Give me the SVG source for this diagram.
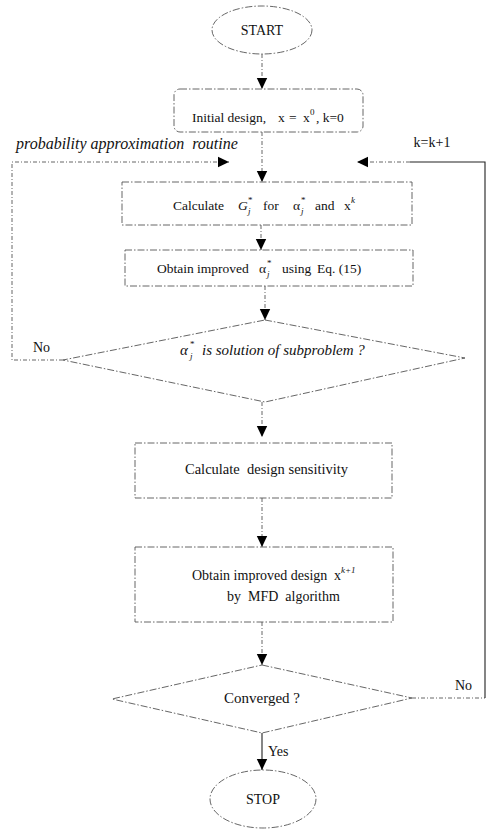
<svg xmlns="http://www.w3.org/2000/svg" width="487" height="831" viewBox="0 0 487 831">
<style>
  text { font-family: "Liberation Serif", "Times New Roman", serif; font-size: 14px; fill: #111; }
  .it { font-style: italic; }
  .sm { font-size: 9px; }
  .shape { fill: none; stroke: #555; stroke-width: 0.9; stroke-dasharray: 7 2 1.5 2; }
  .conn { fill: none; stroke: #555; stroke-width: 0.9; stroke-dasharray: 4 2 1 2; }
  .solid { fill: none; stroke: #222; stroke-width: 1.1; }
</style>
<defs>
  <marker id="ah" markerUnits="userSpaceOnUse" markerWidth="12" markerHeight="12" viewBox="0 0 12 12" refX="11" refY="6" orient="auto">
    <polygon points="0,0.8 11,6 0,11.2" fill="#000"/>
  </marker>
</defs>

<g id="connectors">
  <line class="conn" x1="262" y1="54" x2="262" y2="89" marker-end="url(#ah)"/>
  <line class="conn" x1="262" y1="132" x2="262" y2="182" marker-end="url(#ah)"/>
  <line class="conn" x1="261" y1="225" x2="261" y2="250" marker-end="url(#ah)"/>
  <line class="conn" x1="265" y1="286" x2="265" y2="320" marker-end="url(#ah)"/>
  <line class="conn" x1="262" y1="402" x2="262" y2="437" marker-end="url(#ah)"/>
  <line class="conn" x1="262" y1="498" x2="262" y2="547" marker-end="url(#ah)"/>
  <line class="conn" x1="262" y1="622" x2="262" y2="665" marker-end="url(#ah)"/>
  <line class="solid" x1="262" y1="733" x2="262" y2="770" marker-end="url(#ah)"/>
  <polyline class="conn" points="63,360 12,360 12,162 229,162" marker-end="url(#ah)"/>
  <polyline class="conn" points="412,698 485,698" />
  <polyline class="solid" points="485,698 485,162 410,162" />
  <line class="conn" x1="410" y1="162" x2="357" y2="162" marker-end="url(#ah)"/>
  <text x="16" y="149" class="it" style="font-size:16px" xml:space="preserve">probability approximation  routine</text>
  <text x="432" y="147" text-anchor="middle">k=k+1</text>
  <text x="33" y="352">No</text>
  <text x="455" y="690">No</text>
  <text x="268" y="756">Yes</text>
</g>

<g id="start">
  <ellipse class="shape" cx="262" cy="30" rx="50" ry="24"/>
  <text x="262" y="35" text-anchor="middle">START</text>
</g>

<g id="initial">
  <rect class="shape" x="174" y="89" width="189" height="43" rx="6"/>
  <text x="192" y="122" style="font-size:13.5px">Initial design,</text>
  <text x="278" y="122" style="font-size:13.5px">x</text>
  <text x="289" y="122" style="font-size:13.5px">=</text>
  <text x="303" y="122" style="font-size:13.5px">x</text>
  <text x="310" y="115" class="sm">0</text>
  <text x="316" y="122" style="font-size:13.5px">, k=0</text>
</g>

<g id="calc-g">
  <rect class="shape" x="122" y="182" width="290" height="43"/>
  <text x="173" y="210" style="font-size:13.5px">Calculate</text>
  <text x="238" y="210" class="it" style="font-size:13.5px">G</text>
  <text x="248" y="203" class="sm">*</text>
  <text x="248" y="214" class="sm it">j</text>
  <text x="263" y="210" style="font-size:13.5px">for</text>
  <text x="293" y="210" style="font-size:13.5px">α</text>
  <text x="301" y="203" class="sm">*</text>
  <text x="301" y="214" class="sm it">j</text>
  <text x="315" y="210" style="font-size:13.5px">and</text>
  <text x="344" y="210" style="font-size:13.5px">x</text>
  <text x="351" y="203" class="sm it">k</text>
</g>

<g id="obtain-alpha">
  <rect class="shape" x="125" y="250" width="288" height="36"/>
  <text x="157" y="273" style="font-size:13.5px">Obtain improved</text>
  <text x="259" y="273" style="font-size:13.5px">α</text>
  <text x="267" y="266" class="sm">*</text>
  <text x="267" y="277" class="sm it">j</text>
  <text x="282" y="273" style="font-size:13.5px">using</text>
  <text x="317" y="273" style="font-size:13.5px">Eq. (15)</text>
</g>

<g id="check-sub">
  <polygon class="shape" points="265,320 465,358 265,402 63,360"/>
  <text x="180" y="355" class="it" style="font-size:15px">α</text>
  <text x="190" y="347" class="sm">*</text>
  <text x="190" y="359" class="sm it">j</text>
  <text x="202" y="355" class="it" style="font-size:15px">is solution of subproblem ?</text>
</g>

<g id="sensitivity">
  <rect class="shape" x="135" y="443" width="257" height="55"/>
  <text x="185" y="474" style="font-size:14.5px" xml:space="preserve">Calculate  design sensitivity</text>
</g>

<g id="obtain-design">
  <rect class="shape" x="135" y="547" width="258" height="75"/>
  <text x="192" y="580">Obtain improved design</text>
  <text x="334" y="580">x</text>
  <text x="341" y="573" class="sm it">k+1</text>
  <text x="227" y="601" xml:space="preserve">by  MFD  algorithm</text>
</g>

<g id="converged">
  <polygon class="shape" points="262,665 412,698 262,733 112,699"/>
  <text x="262" y="703" text-anchor="middle" style="font-size:15px">Converged ?</text>
</g>

<g id="stop">
  <ellipse class="shape" cx="263" cy="799" rx="53" ry="29"/>
  <text x="263" y="804" text-anchor="middle">STOP</text>
</g>
</svg>
